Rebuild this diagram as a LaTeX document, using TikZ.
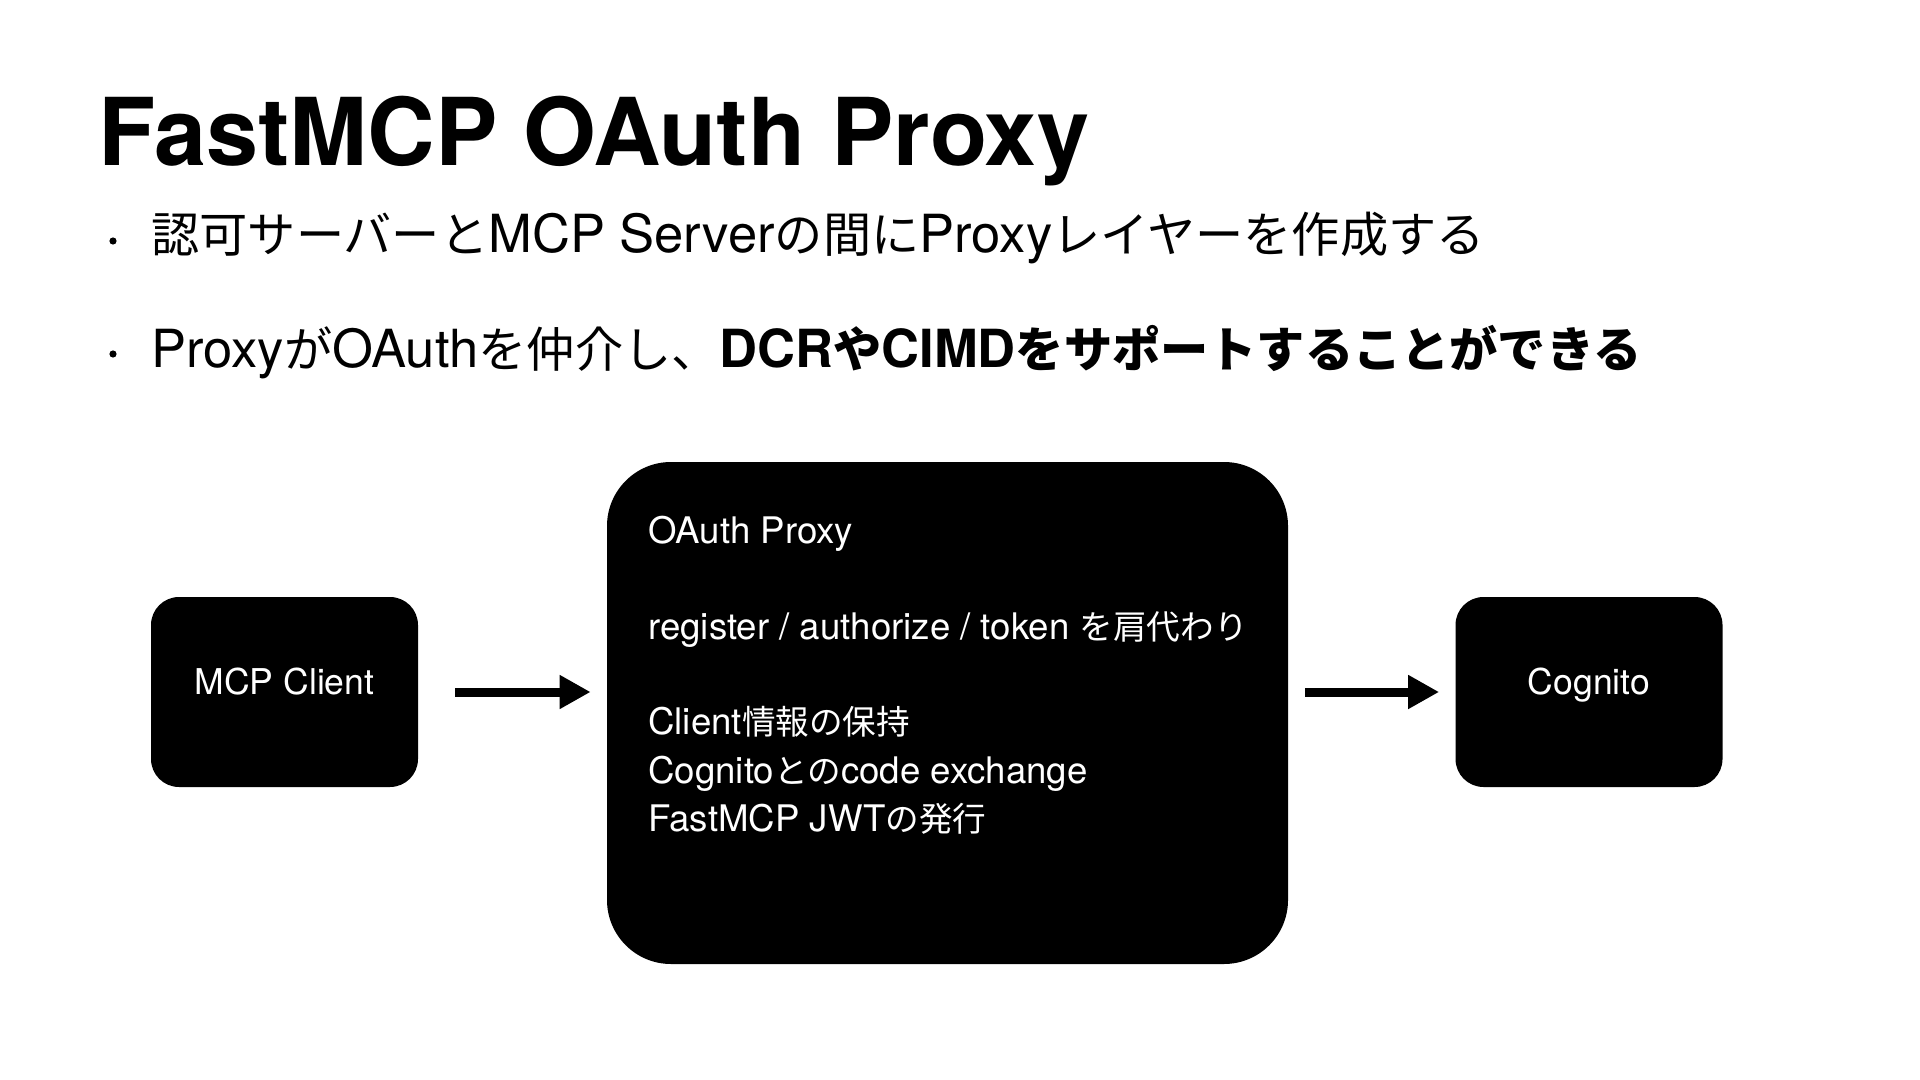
\documentclass[tikz,border=0pt]{standalone}
\usepackage{fontspec}
\setmainfont{Noto Sans CJK JP}
\newfontfamily\titlefont{TeX Gyre Heros}
\newfontfamily\latfont{TeX Gyre Heros}[Scale=1.09]
\newcommand\Lx[1]{{\latfont #1}}
\usetikzlibrary{arrows.meta}
\begin{document}
\begin{tikzpicture}[x=0.5pt,y=-0.5pt,
  box/.style={fill=black, text=white, inner sep=0, rounded corners=14pt,
    minimum width=133.5pt, minimum height=95pt,
    font=\fontsize{16.3pt}{20pt}\selectfont, text height=7pt, text depth=5pt},
  bigbox/.style={fill=black, inner sep=0, rounded corners=32pt,
    minimum width=340.5pt, minimum height=251pt},
  line/.style={anchor=base west, inner sep=0, text=white,
    font=\fontsize{16.8pt}{20pt}\selectfont},
  bullettext/.style={anchor=base west, inner sep=0,
    font=\fontsize{24.1pt}{28pt}\selectfont},
  dot/.style={circle, fill=black, inner sep=0, minimum size=3.6pt},
  arr/.style={line width=4.5pt, -{Triangle[length=15.5pt,width=16pt]}}
]
\fill[white] (0,0) rectangle (1920,1080);
\useasboundingbox (0,0) rectangle (1920,1080);

\node[anchor=base west, inner sep=0,
  font=\titlefont\bfseries\fontsize{46.8pt}{50pt}\selectfont] (title) at (98,166) {FastMCP OAuth Proxy};

\node[dot] (d1) at (113,241) {};
\node[bullettext] (b1) at (151,253) {認可サーバーと\Lx{MCP Server}の間に\Lx{Proxy}レイヤーを作成する};
\node[dot] (d2) at (113,354) {};
\node[bullettext] (b2) at (151,367) {\Lx{Proxy}が\Lx{OAuth}を仲介し、\textbf{\Lx{DCR}や\Lx{CIMD}をサポートすることができる}};

\node[box] (client) at (284.5,692) {\Lx{MCP Client}};
\node[bigbox] (proxy) at (947.5,713) {};
\node[box] (cognito) at (1589,692) {\Lx{Cognito}};

\node[line] (l1) at (648,543) {\Lx{OAuth Proxy}};
\node[line] (l2) at (648,639) {\Lx{register / authorize / token }を肩代わり};
\node[line] (l3) at (648,734) {\Lx{Client}情報の保持};
\node[line] (l4) at (648,783) {\Lx{Cognito}との\Lx{code exchange}};
\node[line] (l5) at (648,831) {\Lx{FastMCP JWT}の発行};

\draw[arr, shorten <=18.5pt, shorten >=8pt] (client.east) -- (proxy.west |- client.east);
\draw[arr, shorten <=8.5pt, shorten >=8pt] (proxy.east |- cognito.west) -- (cognito.west);
\end{tikzpicture}
\end{document}
